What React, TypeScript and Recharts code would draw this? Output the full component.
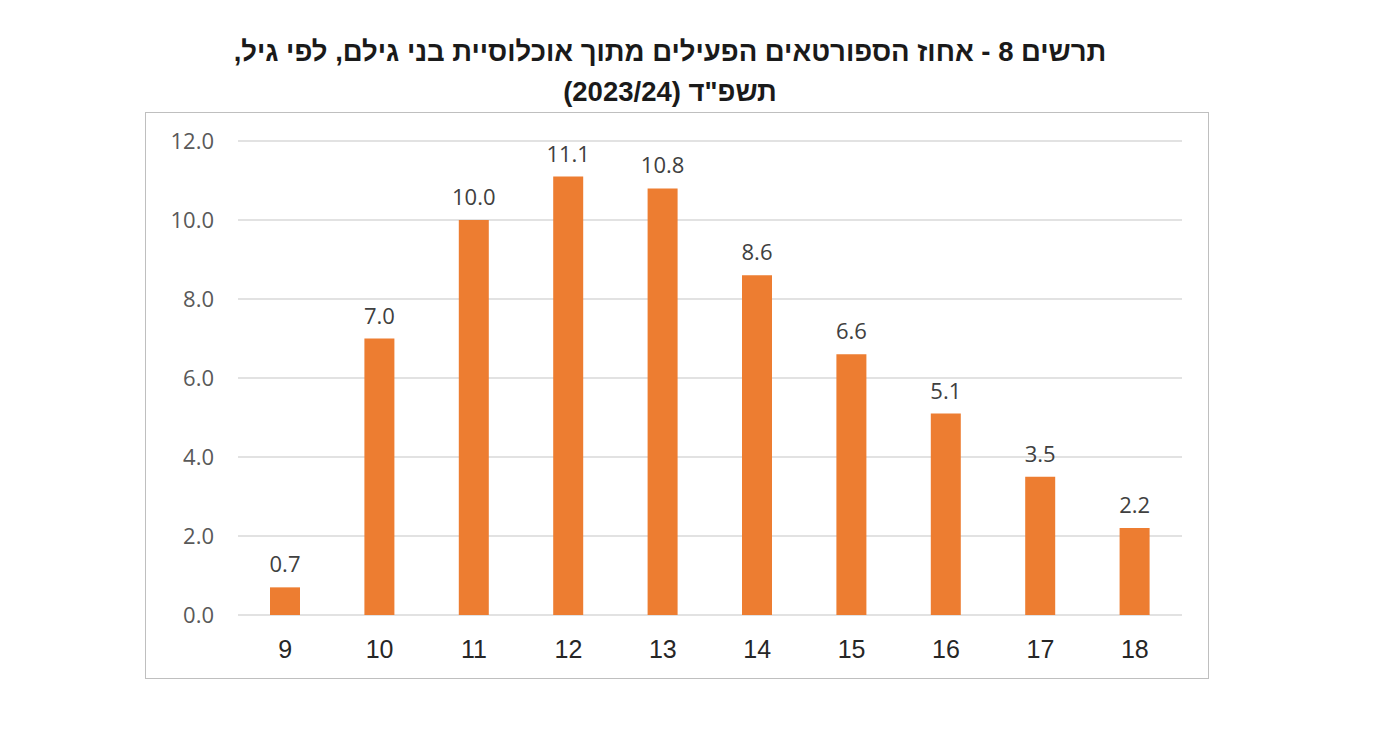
import { BarChart, Bar, XAxis, YAxis, CartesianGrid, LabelList } from 'recharts';

const ages = ['9', '10', '11', '12', '13', '14', '15', '16', '17', '18'];
const activeShare = [0.7, 7.0, 10.0, 11.1, 10.8, 8.6, 6.6, 5.1, 3.5, 2.2];
const yTicks = [0, 2, 4, 6, 8, 10, 12];

const titleLines = [
  'תרשים 8 - אחוז הספורטאים הפעילים מתוך אוכלוסיית בני גילם, לפי גיל,',
  'תשפ"ד (2023/24)',
];

const chartData = ages.map((age, i) => ({ age, value: activeShare[i] }));

export default function App() {
  return (
    <div
      style={{
        position: 'absolute',
        left: 0,
        top: 0,
        width: 1400,
        height: 737,
        background: '#fff',
        fontFamily: '"Liberation Sans", Arial, sans-serif',
      }}
    >
      <div
        dir="rtl"
        style={{
          position: 'absolute',
          left: 0,
          top: 32,
          width: 1340,
          textAlign: 'center',
          fontWeight: 'bold',
          fontSize: 27.5,
          lineHeight: '40px',
          color: '#1a1a1a',
        }}
      >
        {titleLines.map((line) => (
          <div key={line}>{line}</div>
        ))}
      </div>
      <div
        style={{
          position: 'absolute',
          left: 145,
          top: 112,
          width: 1062,
          height: 565,
          border: '1px solid #bfbfbf',
        }}
      >
        <BarChart
          width={1062}
          height={565}
          data={chartData}
          margin={{ top: 28, right: 26, bottom: 33, left: 0 }}
        >
          <CartesianGrid vertical={false} stroke="#d9d9d9" strokeWidth={1.5} />
          <XAxis
            dataKey="age"
            axisLine={false}
            tickLine={false}
            tickMargin={19}
            tick={{ fontSize: 25, fill: '#262626', fontFamily: '"Liberation Sans", Arial, sans-serif' }}
          />
          <YAxis
            width={92}
            domain={[0, 12]}
            ticks={yTicks}
            axisLine={false}
            tickLine={false}
            tickMargin={18}
            tickFormatter={(v: number) => v.toFixed(1)}
            tick={{ fontSize: 22, fill: '#595959', fontFamily: '"Open Sans", sans-serif' }}
          />
          <Bar dataKey="value" fill="#ED7D31" barSize={30} isAnimationActive={false}>
            <LabelList
              dataKey="value"
              position="top"
              offset={15}
              formatter={(v: number) => v.toFixed(1)}
              style={{ fontSize: 22, fill: '#404040', fontFamily: '"Open Sans", sans-serif' }}
            />
          </Bar>
        </BarChart>
      </div>
    </div>
  );
}
